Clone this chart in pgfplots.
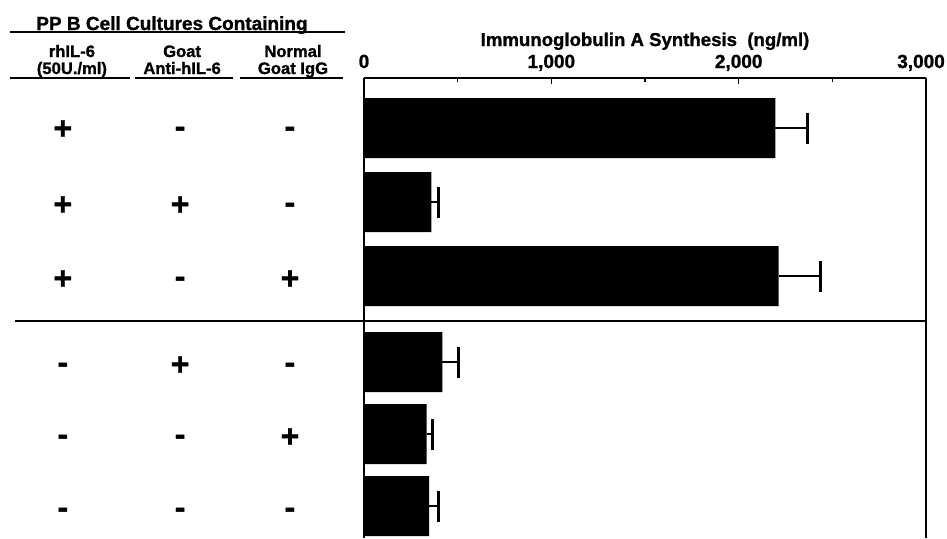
\documentclass[border=0pt]{standalone}
\usepackage{fontspec}
\setmainfont{Liberation Sans}[BoldFeatures={FakeBold=1.2}]
\usepackage{pgfplots}
\pgfplotsset{compat=1.18}

% y runs in picture rows (1 unit = 0.5pt), x in ng/ml
\pgfplotstableread{
y    iga   err
128  2196  172
202  360   38
276  2213  223
362  419   87
434  334   30
506  348   51
}\igadata

\begin{document}
\begin{tikzpicture}
\begin{axis}[
  scale only axis,
  width=281pt, height=230pt,
  xmin=0, xmax=3000,
  ymin=78, ymax=538,
  y dir=reverse,
  axis x line=top,
  axis y line=left,
  axis line style={-, line width=0.8pt},
  xtick={0,1000,2000,3000},
  xticklabels={0,{1,000},{2,000},{\kern-5pt 3,000}},
  minor x tick num=1,
  tick align=inside,
  major tick length=3pt, minor tick length=2pt,
  tick style={line width=0.8pt, black},
  ytick=\empty,
  xticklabel style={font=\fontsize{9.5}{10}\selectfont\bfseries, anchor=base, yshift=5pt},
  clip=false,
]
\addplot[xbar, bar width=60, fill=black, draw=none,
  error bars/.cd, x dir=plus, x explicit, error mark=|,
  error mark options={line width=1.5pt, mark size=7.75pt},
  error bar style={line width=1pt}]
  table[x=iga, y=y, x error=err] {\igadata};

% title of the bar part
\node[anchor=base, font=\fontsize{9.3}{10}\selectfont\bfseries] at (axis cs:1500,46) {Immunoglobulin A Synthesis\ \ (ng/ml)};

% left table header
\node[anchor=base, font=\fontsize{9.5}{10}\selectfont\bfseries] at (axis cs:-1025,30) {PP B Cell Cultures Containing};
\draw[line width=1pt] (axis cs:-1890,32) -- (axis cs:-101,32);
\begin{scope}[font=\fontsize{8.3}{9}\selectfont\bfseries]
\node[anchor=base] at (axis cs:-1559,57) {rhIL-6};
\node[anchor=base] at (axis cs:-1559,74) {(50U./ml)};
\node[anchor=base] at (axis cs:-971,57) {Goat};
\node[anchor=base] at (axis cs:-971,74) {Anti-hIL-6};
\node[anchor=base] at (axis cs:-379,57) {Normal};
\node[anchor=base] at (axis cs:-379,74) {Goat IgG};
\end{scope}
\draw[line width=1pt] (axis cs:-1890,78) -- (axis cs:-1249,78);
\draw[line width=1pt] (axis cs:-1222,78) -- (axis cs:-699,78);
\draw[line width=1pt] (axis cs:-662,78) -- (axis cs:-112,78);

% +/- table
\begin{scope}[font=\fontsize{16}{16}\selectfont\bfseries]
\node[anchor=base] at (axis cs:-1607,139) {+};
\node[anchor=base] at (axis cs:-982,137) {-};
\node[anchor=base] at (axis cs:-395,137) {-};
\node[anchor=base] at (axis cs:-1607,215) {+};
\node[anchor=base] at (axis cs:-982,215) {+};
\node[anchor=base] at (axis cs:-395,213) {-};
\node[anchor=base] at (axis cs:-1607,289) {+};
\node[anchor=base] at (axis cs:-982,287) {-};
\node[anchor=base] at (axis cs:-395,289) {+};
\node[anchor=base] at (axis cs:-1607,373) {-};
\node[anchor=base] at (axis cs:-982,375) {+};
\node[anchor=base] at (axis cs:-395,373) {-};
\node[anchor=base] at (axis cs:-1607,445) {-};
\node[anchor=base] at (axis cs:-982,445) {-};
\node[anchor=base] at (axis cs:-395,447) {+};
\node[anchor=base] at (axis cs:-1607,518) {-};
\node[anchor=base] at (axis cs:-982,518) {-};
\node[anchor=base] at (axis cs:-395,518) {-};
\end{scope}

% divider and right frame
\draw[line width=0.8pt] (axis cs:-1863,321) -- (axis cs:3000,321);
\draw[line width=0.8pt] (rel axis cs:1,0) -- (rel axis cs:1,1);

\coordinate (bbA) at (axis cs:-1943,0);
\coordinate (bbB) at (axis cs:3112,538);
\end{axis}
\pgfresetboundingbox
\path[use as bounding box] (bbA) rectangle (bbB);
\end{tikzpicture}
\end{document}
